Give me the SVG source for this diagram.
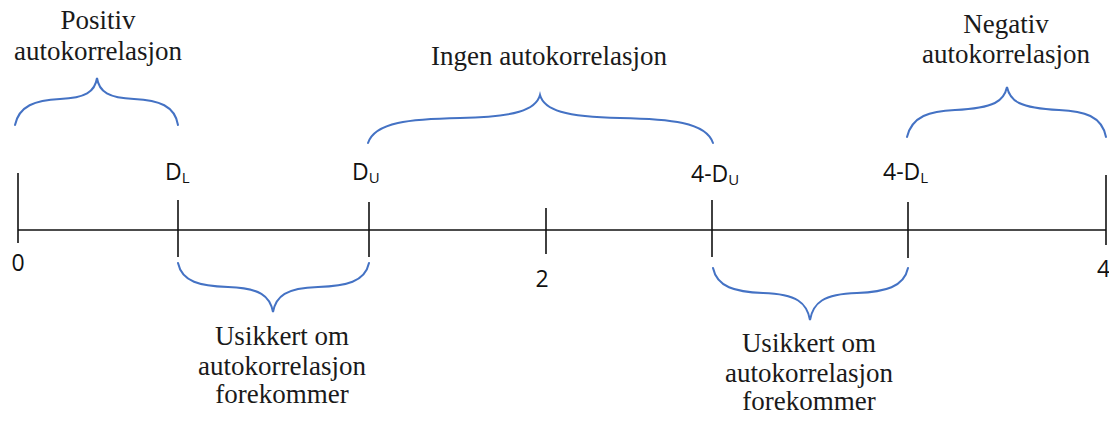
<svg xmlns="http://www.w3.org/2000/svg" width="1109" height="421" viewBox="0 0 1109 421">
<style>
.serif{font-family:"Liberation Serif","Times New Roman",serif;font-size:27px;fill:#1a1a1a;text-anchor:middle}
.sans{font-family:"Open Sans","Liberation Sans",Arial,sans-serif;font-size:23px;fill:#111}
.sub{font-size:15px}
.brace{fill:none;stroke:#4472C4;stroke-width:2;stroke-linecap:round}
.axis{stroke:#111;stroke-width:1.6;fill:none}
</style>
<rect width="1109" height="421" fill="#fff"/>
<g id="connectors">
<line class="axis" x1="18" y1="230" x2="1106" y2="230"/>
<line class="axis" x1="18" y1="173" x2="18" y2="243"/>
<line class="axis" x1="178" y1="200" x2="178" y2="257"/>
<line class="axis" x1="369" y1="202" x2="369" y2="257"/>
<line class="axis" x1="546" y1="208" x2="546" y2="254"/>
<line class="axis" x1="712" y1="200" x2="712" y2="257"/>
<line class="axis" x1="908" y1="202" x2="908" y2="258"/>
<line class="axis" x1="1106" y1="175" x2="1106" y2="245"/>
</g>
<g id="tick-labels">
<text class="sans" x="18" y="271" text-anchor="middle">0</text>
<text class="sans" x="165" y="180">D<tspan class="sub" dy="3">L</tspan></text>
<text class="sans" x="352" y="180">D<tspan class="sub" dy="3">U</tspan></text>
<text class="sans" x="542" y="287" text-anchor="middle">2</text>
<text class="sans" x="691" y="182">4-D<tspan class="sub" dy="3">U</tspan></text>
<text class="sans" x="883" y="180">4-D<tspan class="sub" dy="3">L</tspan></text>
<text class="sans" x="1097" y="277">4</text>
</g>
<g id="positiv">
<path class="brace" d="M15,125 C19,106 35,100 60,99 C85,98 95,92 97,78 C99,92 109,98 134,99 C159,100 175,106 178,125"/>
<text class="serif" x="98" y="29">Positiv</text>
<text class="serif" x="98" y="60">autokorrelasjon</text>
</g>
<g id="ingen">
<path class="brace" d="M368,143 C375,122 410,119 460,118 C515,117 536,110 540,95 C544,110 565,117 620,118 C670,119 706,122 713,143"/>
<text class="serif" x="549" y="65">Ingen autokorrelasjon</text>
</g>
<g id="negativ">
<path class="brace" d="M907,137 C912,116 930,111 955,110 C995,108 1004,101 1007,87 C1010,101 1019,108 1059,110 C1084,111 1102,116 1106,137"/>
<text class="serif" x="1006" y="33">Negativ</text>
<text class="serif" x="1006" y="63">autokorrelasjon</text>
</g>
<g id="usikkert-1">
<path class="brace" d="M178,263 C182,282 200,286 228,287 C260,288 270,296 273,312 C276,296 286,288 318,287 C346,286 365,282 369,263"/>
<text class="serif" x="282" y="345">Usikkert om</text>
<text class="serif" x="282" y="375">autokorrelasjon</text>
<text class="serif" x="282" y="403">forekommer</text>
</g>
<g id="usikkert-2">
<path class="brace" d="M713,268 C717,287 735,292 763,293 C797,294 807,303 810,320 C813,303 823,294 857,293 C885,292 904,287 908,268"/>
<text class="serif" x="809" y="352">Usikkert om</text>
<text class="serif" x="809" y="382">autokorrelasjon</text>
<text class="serif" x="809" y="410">forekommer</text>
</g>
</svg>
